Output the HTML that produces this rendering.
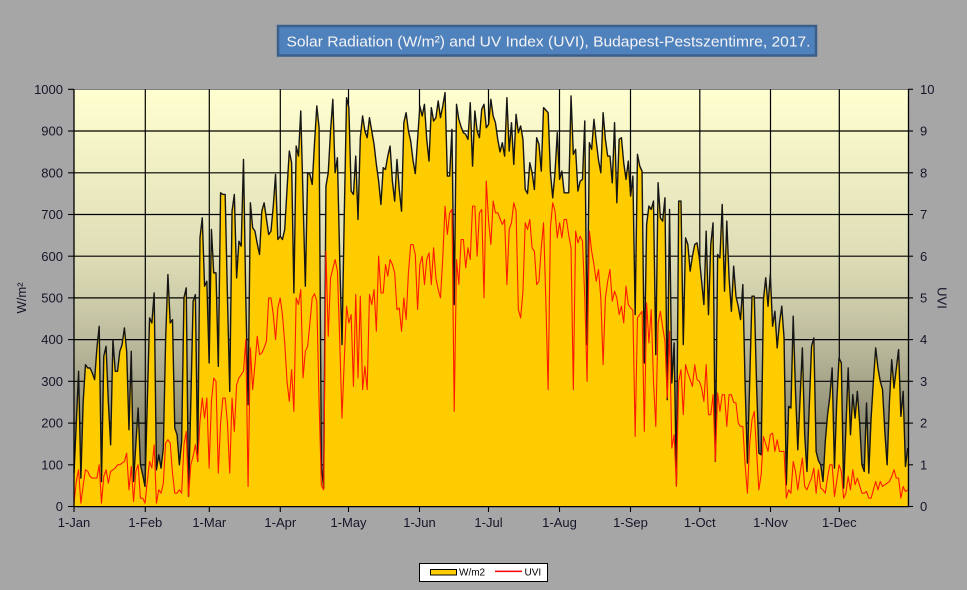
<!DOCTYPE html>
<html><head><meta charset="utf-8"><style>
html,body{margin:0;padding:0;background:#a6a6a6;}
svg{display:block;}
text{font-family:"Liberation Sans",Arial,sans-serif;}
</style></head><body>
<svg width="967" height="590" viewBox="0 0 967 590" xmlns="http://www.w3.org/2000/svg">
<defs>
<linearGradient id="bg" x1="0" y1="0" x2="0" y2="1">
<stop offset="0" stop-color="#FFFFD0"/>
<stop offset="0.4" stop-color="#DEDDB6"/>
<stop offset="0.5" stop-color="#CFCEAB"/>
<stop offset="0.65" stop-color="#B2B195"/>
<stop offset="0.8" stop-color="#8F8E74"/>
<stop offset="1" stop-color="#7A7962"/>
</linearGradient>
</defs>
<rect x="0" y="0" width="967" height="590" fill="#a6a6a6"/>
<!-- title -->
<rect x="278" y="26" width="538" height="29.5" fill="#4F81BD" stroke="#3A5F8B" stroke-width="2.5"/>
<text x="286.5" y="46.5" font-size="15" fill="#F4F4F4" textLength="524" lengthAdjust="spacingAndGlyphs">Solar Radiation (W/m²) and UV Index (UVI), Budapest-Pestszentimre, 2017.</text>
<!-- plot bg -->
<rect x="74" y="89.3" width="834" height="417.2" fill="url(#bg)"/>
<line x1="74" y1="89.5" x2="908" y2="89.5" stroke="#808080" stroke-width="1"/>
<!-- gridlines -->
<g stroke="#000" stroke-width="1.2">
<line x1="74" y1="464.8" x2="908" y2="464.8"/>
<line x1="74" y1="423.1" x2="908" y2="423.1"/>
<line x1="74" y1="381.3" x2="908" y2="381.3"/>
<line x1="74" y1="339.6" x2="908" y2="339.6"/>
<line x1="74" y1="297.9" x2="908" y2="297.9"/>
<line x1="74" y1="256.2" x2="908" y2="256.2"/>
<line x1="74" y1="214.5" x2="908" y2="214.5"/>
<line x1="74" y1="172.8" x2="908" y2="172.8"/>
<line x1="74" y1="131.0" x2="908" y2="131.0"/>
<line x1="145.3" y1="89.3" x2="145.3" y2="506.5"/>
<line x1="209.3" y1="89.3" x2="209.3" y2="506.5"/>
<line x1="280.3" y1="89.3" x2="280.3" y2="506.5"/>
<line x1="348.5" y1="89.3" x2="348.5" y2="506.5"/>
<line x1="419.5" y1="89.3" x2="419.5" y2="506.5"/>
<line x1="488.5" y1="89.3" x2="488.5" y2="506.5"/>
<line x1="559.5" y1="89.3" x2="559.5" y2="506.5"/>
<line x1="630.5" y1="89.3" x2="630.5" y2="506.5"/>
<line x1="699.8" y1="89.3" x2="699.8" y2="506.5"/>
<line x1="770.5" y1="89.3" x2="770.5" y2="506.5"/>
<line x1="839.3" y1="89.3" x2="839.3" y2="506.5"/>
</g>
<!-- series -->
<g transform="translate(74,506.5) scale(2.2905,-0.4172)">
<polygon fill="#FFCC00" stroke="none" points="0,0 0,80 1,200 2,324 3,68 4,250 5,340 6,332 7,332 8,320 9,304 10,380 11,432 12,60 13,360 14,384 15,250 16,148 17,400 18,324 19,324 20,372 21,388 22,428 23,372 24,184 25,372 26,60 27,150 28,236 29,100 30,76 31,48 32,250 33,452 34,440 35,512 36,88 37,124 38,92 39,140 40,400 41,556 42,440 43,448 44,188 45,172 46,100 47,156 48,500 49,524 50,24 51,250 52,492 53,508 54,108 55,644 56,692 57,528 58,540 59,344 60,664 61,560 62,560 63,336 64,752 65,748 66,748 67,500 68,276 69,708 70,748 71,548 72,636 73,624 74,832 75,500 76,244 77,728 78,668 79,660 80,630 81,604 82,708 83,728 84,690 85,652 86,660 87,720 88,796 89,640 90,648 91,640 92,664 93,760 94,852 95,824 96,512 97,864 98,840 99,948 100,740 101,528 102,800 103,796 104,772 105,870 106,960 107,908 108,100 109,44 110,768 111,800 112,900 113,976 114,800 115,836 116,596 117,388 118,700 119,980 120,956 121,756 122,748 123,840 124,688 125,884 126,936 127,900 128,884 129,932 130,900 131,868 132,820 133,780 134,724 135,812 136,808 137,840 138,864 139,780 140,732 141,832 142,760 143,708 144,920 145,944 146,900 147,876 148,830 149,798 150,880 151,960 152,936 153,964 154,880 155,828 156,956 157,924 158,932 159,972 160,932 161,960 162,992 163,792 164,792 165,904 166,484 167,964 168,928 169,910 170,896 171,892 172,880 173,968 174,816 175,948 176,900 177,884 178,952 179,964 180,908 181,916 182,976 183,936 184,920 185,880 186,850 187,872 188,840 189,980 190,852 191,920 192,820 193,940 194,896 195,912 196,880 197,760 198,750 199,824 200,800 201,760 202,884 203,868 204,804 205,956 206,950 207,944 208,800 209,740 210,800 211,896 212,784 213,804 214,752 215,752 216,752 217,984 218,844 219,856 220,756 221,780 222,784 223,924 224,388 225,872 226,856 227,928 228,876 229,830 230,800 231,944 232,880 233,840 234,840 235,776 236,920 237,728 238,880 239,884 240,824 241,784 242,828 243,744 244,792 245,460 246,844 247,816 248,804 249,344 250,676 251,720 252,712 253,732 254,364 255,776 256,692 257,684 258,740 259,256 260,712 261,296 262,392 263,52 264,732 265,732 266,388 267,644 268,628 269,564 270,600 271,628 272,632 273,596 274,540 275,484 276,660 277,460 278,628 279,680 280,108 281,604 282,596 283,724 284,516 285,684 286,548 287,468 288,576 289,504 290,480 291,448 292,532 293,292 294,104 295,300 296,504 297,504 298,292 299,128 300,124 301,496 302,548 303,480 304,556 305,432 306,468 307,380 308,440 309,480 310,404 311,52 312,240 313,236 314,456 315,276 316,136 317,260 318,380 319,172 320,84 321,240 322,384 323,404 324,132 325,110 326,100 327,60 328,156 329,220 330,264 331,332 332,92 333,250 334,356 335,344 336,44 337,188 338,332 339,172 340,268 341,212 342,276 343,200 344,100 345,84 346,248 347,80 348,212 349,300 350,380 351,332 352,300 353,280 354,180 355,100 356,250 357,352 358,284 359,330 360,376 361,216 362,276 363,96 364,140 364,0"/>
<polyline fill="none" stroke="#151515" stroke-width="1.4" stroke-linejoin="round" vector-effect="non-scaling-stroke" points="0,80 1,200 2,324 3,68 4,250 5,340 6,332 7,332 8,320 9,304 10,380 11,432 12,60 13,360 14,384 15,250 16,148 17,400 18,324 19,324 20,372 21,388 22,428 23,372 24,184 25,372 26,60 27,150 28,236 29,100 30,76 31,48 32,250 33,452 34,440 35,512 36,88 37,124 38,92 39,140 40,400 41,556 42,440 43,448 44,188 45,172 46,100 47,156 48,500 49,524 50,24 51,250 52,492 53,508 54,108 55,644 56,692 57,528 58,540 59,344 60,664 61,560 62,560 63,336 64,752 65,748 66,748 67,500 68,276 69,708 70,748 71,548 72,636 73,624 74,832 75,500 76,244 77,728 78,668 79,660 80,630 81,604 82,708 83,728 84,690 85,652 86,660 87,720 88,796 89,640 90,648 91,640 92,664 93,760 94,852 95,824 96,512 97,864 98,840 99,948 100,740 101,528 102,800 103,796 104,772 105,870 106,960 107,908 108,100 109,44 110,768 111,800 112,900 113,976 114,800 115,836 116,596 117,388 118,700 119,980 120,956 121,756 122,748 123,840 124,688 125,884 126,936 127,900 128,884 129,932 130,900 131,868 132,820 133,780 134,724 135,812 136,808 137,840 138,864 139,780 140,732 141,832 142,760 143,708 144,920 145,944 146,900 147,876 148,830 149,798 150,880 151,960 152,936 153,964 154,880 155,828 156,956 157,924 158,932 159,972 160,932 161,960 162,992 163,792 164,792 165,904 166,484 167,964 168,928 169,910 170,896 171,892 172,880 173,968 174,816 175,948 176,900 177,884 178,952 179,964 180,908 181,916 182,976 183,936 184,920 185,880 186,850 187,872 188,840 189,980 190,852 191,920 192,820 193,940 194,896 195,912 196,880 197,760 198,750 199,824 200,800 201,760 202,884 203,868 204,804 205,956 206,950 207,944 208,800 209,740 210,800 211,896 212,784 213,804 214,752 215,752 216,752 217,984 218,844 219,856 220,756 221,780 222,784 223,924 224,388 225,872 226,856 227,928 228,876 229,830 230,800 231,944 232,880 233,840 234,840 235,776 236,920 237,728 238,880 239,884 240,824 241,784 242,828 243,744 244,792 245,460 246,844 247,816 248,804 249,344 250,676 251,720 252,712 253,732 254,364 255,776 256,692 257,684 258,740 259,256 260,712 261,296 262,392 263,52 264,732 265,732 266,388 267,644 268,628 269,564 270,600 271,628 272,632 273,596 274,540 275,484 276,660 277,460 278,628 279,680 280,108 281,604 282,596 283,724 284,516 285,684 286,548 287,468 288,576 289,504 290,480 291,448 292,532 293,292 294,104 295,300 296,504 297,504 298,292 299,128 300,124 301,496 302,548 303,480 304,556 305,432 306,468 307,380 308,440 309,480 310,404 311,52 312,240 313,236 314,456 315,276 316,136 317,260 318,380 319,172 320,84 321,240 322,384 323,404 324,132 325,110 326,100 327,60 328,156 329,220 330,264 331,332 332,92 333,250 334,356 335,344 336,44 337,188 338,332 339,172 340,268 341,212 342,276 343,200 344,100 345,84 346,248 347,80 348,212 349,300 350,380 351,332 352,300 353,280 354,180 355,100 356,250 357,352 358,284 359,330 360,376 361,216 362,276 363,96 364,140"/>
<polyline fill="none" stroke="#FF1A00" stroke-width="1.1" stroke-linejoin="round" vector-effect="non-scaling-stroke" points="0,8 1,60 2,88 3,8 4,50 5,88 6,84 7,72 8,68 9,68 10,68 11,100 12,8 13,72 14,88 15,56 16,84 17,88 18,92 19,100 20,100 21,104 22,108 23,128 24,40 25,96 26,12 27,84 28,100 29,20 30,20 31,8 32,60 33,108 34,92 35,148 36,8 37,40 38,32 39,56 40,152 41,160 42,152 43,80 44,32 45,32 46,40 47,32 48,148 49,180 50,24 51,100 52,120 53,148 54,108 55,204 56,260 57,212 58,260 59,92 60,252 61,308 62,300 63,80 64,200 65,260 66,260 67,200 68,80 69,260 70,180 71,292 72,308 73,316 74,324 75,400 76,48 77,380 78,280 79,340 80,408 81,364 82,368 83,380 84,396 85,500 86,500 87,460 88,400 89,476 90,500 91,460 92,392 93,300 94,252 95,328 96,228 97,500 98,484 99,520 100,308 101,372 102,384 103,440 104,500 105,510 106,492 107,252 108,50 109,40 110,612 111,408 112,548 113,570 114,592 115,564 116,400 117,212 118,350 119,480 120,440 121,460 122,288 123,508 124,308 125,504 126,280 127,336 128,280 129,508 130,484 131,520 132,420 133,600 134,512 135,512 136,580 137,552 138,592 139,580 140,560 141,472 142,476 143,420 144,500 145,448 146,560 147,628 148,628 149,604 150,472 151,580 152,600 153,532 154,592 155,608 156,532 157,620 158,548 159,520 160,500 161,596 162,720 163,652 164,704 165,712 166,228 167,592 168,532 169,640 170,640 171,572 172,620 173,592 174,720 175,720 176,600 177,704 178,712 179,500 180,780 181,684 182,628 183,732 184,704 185,704 186,690 187,676 188,688 189,532 190,664 191,680 192,728 193,708 194,472 195,452 196,516 197,680 198,664 199,688 200,620 201,612 202,532 203,540 204,620 205,680 206,492 207,280 208,668 209,728 210,708 211,644 212,680 213,644 214,688 215,688 216,650 217,620 218,280 219,660 220,632 221,648 222,636 223,500 224,300 225,660 226,612 227,580 228,540 229,568 230,500 231,340 232,500 233,540 234,568 235,492 236,516 237,500 238,460 239,480 240,440 241,528 242,484 243,476 244,470 245,168 246,452 247,460 248,468 249,180 250,488 251,392 252,472 253,300 254,192 255,440 256,468 257,430 258,396 259,260 260,420 261,140 262,172 263,48 264,300 265,328 266,220 267,340 268,320 269,304 270,288 271,340 272,304 273,300 274,284 275,252 276,340 277,220 278,220 279,268 280,108 281,272 282,228 283,268 284,268 285,192 286,268 287,268 288,250 289,248 290,200 291,192 292,192 293,100 294,32 295,150 296,208 297,228 298,132 299,40 300,76 301,168 302,150 303,132 304,172 305,176 306,132 307,160 308,132 309,132 310,132 311,20 312,40 313,32 314,108 315,84 316,40 317,80 318,116 319,48 320,40 321,55 322,68 323,92 324,32 325,88 326,44 327,40 328,32 329,70 330,100 331,100 332,24 333,60 334,100 335,84 336,20 337,32 338,72 339,40 340,88 341,52 342,68 343,50 344,32 345,32 346,36 347,20 348,20 349,40 350,60 351,40 352,60 353,48 354,52 355,56 356,60 357,72 358,88 359,68 360,68 361,20 362,48 363,36 364,40"/>
</g>
<!-- axes -->
<g stroke="#000" stroke-width="1.3">
<line x1="74" y1="89.3" x2="74" y2="507"/>
<line x1="908.5" y1="89.3" x2="908.5" y2="507"/>
<line x1="73.5" y1="506.6" x2="909" y2="506.6"/>
</g>
<g stroke="#000" stroke-width="1.1">
<line x1="68" y1="506.5" x2="74" y2="506.5"/>
<line x1="68" y1="464.8" x2="74" y2="464.8"/>
<line x1="68" y1="423.1" x2="74" y2="423.1"/>
<line x1="68" y1="381.3" x2="74" y2="381.3"/>
<line x1="68" y1="339.6" x2="74" y2="339.6"/>
<line x1="68" y1="297.9" x2="74" y2="297.9"/>
<line x1="68" y1="256.2" x2="74" y2="256.2"/>
<line x1="68" y1="214.5" x2="74" y2="214.5"/>
<line x1="68" y1="172.8" x2="74" y2="172.8"/>
<line x1="68" y1="131.0" x2="74" y2="131.0"/>
<line x1="68" y1="89.3" x2="74" y2="89.3"/>
<line x1="908" y1="506.5" x2="913" y2="506.5"/>
<line x1="908" y1="464.8" x2="913" y2="464.8"/>
<line x1="908" y1="423.1" x2="913" y2="423.1"/>
<line x1="908" y1="381.3" x2="913" y2="381.3"/>
<line x1="908" y1="339.6" x2="913" y2="339.6"/>
<line x1="908" y1="297.9" x2="913" y2="297.9"/>
<line x1="908" y1="256.2" x2="913" y2="256.2"/>
<line x1="908" y1="214.5" x2="913" y2="214.5"/>
<line x1="908" y1="172.8" x2="913" y2="172.8"/>
<line x1="908" y1="131.0" x2="913" y2="131.0"/>
<line x1="908" y1="89.3" x2="913" y2="89.3"/>
<line x1="74" y1="506.5" x2="74" y2="512"/>
<line x1="145.3" y1="506.5" x2="145.3" y2="512"/>
<line x1="209.3" y1="506.5" x2="209.3" y2="512"/>
<line x1="280.3" y1="506.5" x2="280.3" y2="512"/>
<line x1="348.5" y1="506.5" x2="348.5" y2="512"/>
<line x1="419.5" y1="506.5" x2="419.5" y2="512"/>
<line x1="488.5" y1="506.5" x2="488.5" y2="512"/>
<line x1="559.5" y1="506.5" x2="559.5" y2="512"/>
<line x1="630.5" y1="506.5" x2="630.5" y2="512"/>
<line x1="699.8" y1="506.5" x2="699.8" y2="512"/>
<line x1="770.5" y1="506.5" x2="770.5" y2="512"/>
<line x1="839.3" y1="506.5" x2="839.3" y2="512"/>
</g>
<!-- left labels -->
<g font-size="13" fill="#15152a" text-anchor="end">
<text x="63" y="511.1">0</text>
<text x="63" y="469.4">100</text>
<text x="63" y="427.7">200</text>
<text x="63" y="385.9">300</text>
<text x="63" y="344.2">400</text>
<text x="63" y="302.5">500</text>
<text x="63" y="260.8">600</text>
<text x="63" y="219.1">700</text>
<text x="63" y="177.4">800</text>
<text x="63" y="135.6">900</text>
<text x="63" y="93.9">1000</text>
</g>
<!-- right labels -->
<g font-size="13" fill="#15152a" text-anchor="start">
<text x="920" y="511.1">0</text>
<text x="920" y="469.4">1</text>
<text x="920" y="427.7">2</text>
<text x="920" y="385.9">3</text>
<text x="920" y="344.2">4</text>
<text x="920" y="302.5">5</text>
<text x="920" y="260.8">6</text>
<text x="920" y="219.1">7</text>
<text x="920" y="177.4">8</text>
<text x="920" y="135.6">9</text>
<text x="920" y="93.9">10</text>
</g>
<!-- x labels -->
<g font-size="13" fill="#15152a" text-anchor="middle">
<text x="74" y="527">1-Jan</text>
<text x="145.3" y="527">1-Feb</text>
<text x="209.3" y="527">1-Mar</text>
<text x="280.3" y="527">1-Apr</text>
<text x="348.5" y="527">1-May</text>
<text x="419.5" y="527">1-Jun</text>
<text x="488.5" y="527">1-Jul</text>
<text x="559.5" y="527">1-Aug</text>
<text x="630.5" y="527">1-Sep</text>
<text x="699.8" y="527">1-Oct</text>
<text x="770.5" y="527">1-Nov</text>
<text x="839.3" y="527">1-Dec</text>
</g>
<!-- axis titles -->
<text transform="translate(26,298) rotate(-90)" font-size="13" fill="#15152a" text-anchor="middle">W/m²</text>
<text transform="translate(937.5,298) rotate(90)" font-size="13" fill="#15152a" text-anchor="middle">UVI</text>
<!-- legend -->
<rect x="419.5" y="563.5" width="128" height="18" fill="#fff" stroke="#000" stroke-width="1"/>
<rect x="430.5" y="569.5" width="26" height="5.5" fill="#FFCC00" stroke="#000" stroke-width="1"/>
<text x="459" y="575.5" font-size="10" fill="#000">W/m2</text>
<rect x="495" y="570.6" width="27" height="1.5" fill="#FF0000"/>
<text x="524.5" y="575.5" font-size="10" fill="#000">UVI</text>
</svg>
</body></html>
